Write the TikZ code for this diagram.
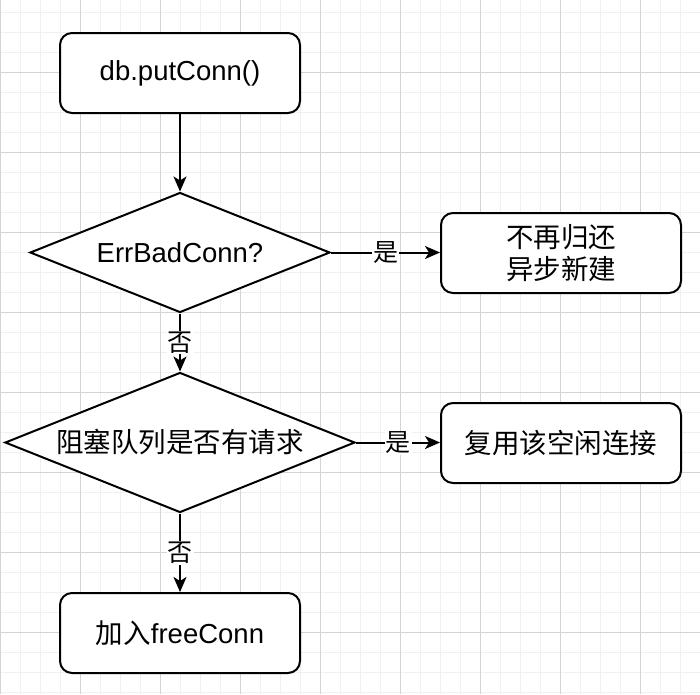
\documentclass[tikz,border=0pt]{standalone}
\usepackage{fontspec}
\setmainfont{Liberation Sans}
\newfontfamily\cjk{Noto Sans CJK SC}
\usetikzlibrary{shapes.geometric,arrows.meta}
\definecolor{gridminor}{RGB}{240,240,240}
\definecolor{gridmajor}{RGB}{212,212,212}
\begin{document}
\begin{tikzpicture}[x=1pt,y=-1pt,
  box/.style={draw, line width=2pt, rounded corners=12pt, minimum width=240pt, minimum height=80pt,
    inner sep=0pt, align=center, fill=white, font=\fontsize{27.5}{32}\selectfont},
  dia/.style={draw, diamond, line width=2pt, inner sep=0pt, shape aspect=2.5, fill=white,
    font=\fontsize{27.5}{32}\selectfont},
  conn/.style={draw, line width=2pt, -{Stealth[length=15pt,width=13pt,inset=4pt]}},
  lbl/.style={fill=white, inner sep=1pt, font=\cjk\fontsize{25}{28}\selectfont},
  minorline/.style={draw=gridminor, line width=1pt},
  majorline/.style={draw=gridmajor, line width=1pt}
]
\useasboundingbox (0,0) rectangle (700,694);
\fill[white] (0,0) rectangle (700,694);
\foreach \x in {0,20,...,700} \draw[minorline] (\x,0) -- (\x,694);
\foreach \y in {12,32,...,692} \draw[minorline] (0,\y) -- (700,\y);
\foreach \x in {0,80,...,640} \draw[majorline] (\x,0) -- (\x,694);
\foreach \y in {72,152,...,632} \draw[majorline] (0,\y) -- (700,\y);

\node[box] (a) at (180,73) {db.putConn()};
\node[dia, minimum width=300pt, minimum height=120pt] (b) at (180,252.5) {ErrBadConn?};
\node[box] (c) at (561,253) {{\cjk 不再归还}\\{\cjk 异步新建}};
\node[dia, minimum width=350pt, minimum height=140pt] (d) at (180,442.5) {\cjk 阻塞队列是否有请求};
\node[box] (e) at (561,443) {\cjk 复用该空闲连接};
\node[box] (f) at (180,633) {{\cjk 加入}freeConn};

\draw[conn] (a.south) -- (b.north);
\draw[conn] (b.east) -- node[lbl] {是} (b.east -| c.west);
\draw[conn] (b.south) -- node[lbl] {否} (d.north);
\draw[conn] (d.east) -- node[lbl] {是} (d.east -| e.west);
\draw[conn] (d.south) -- node[lbl] {否} (f.north);
\end{tikzpicture}
\end{document}
